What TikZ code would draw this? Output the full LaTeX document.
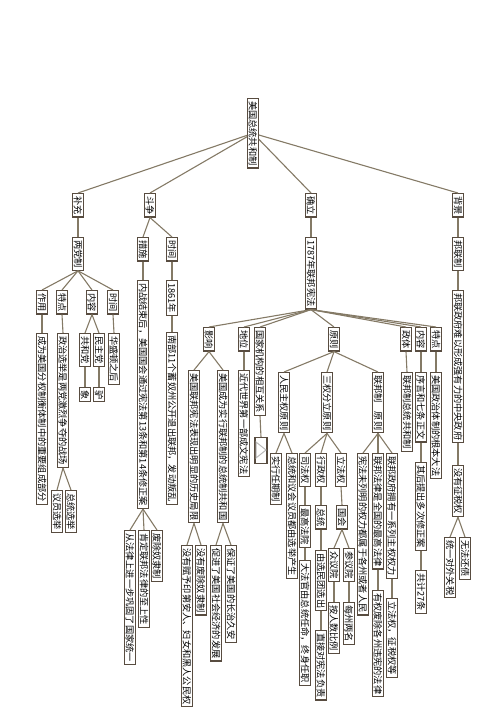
\documentclass[tikz,border=0pt]{standalone}
\usepackage{fontspec}
\newfontfamily\cjk{Noto Sans CJK SC}
\definecolor{boxc}{RGB}{88,76,64}
\definecolor{linkc}{RGB}{132,122,102}
\tikzset{
  box/.style={draw=boxc, line width=1.2pt, fill=white, rotate=-90, anchor=west,
    inner xsep=2.5pt, inner ysep=1pt, font=\cjk\fontsize{9.2}{9.2}\selectfont},
  link/.style={draw=linkc, line width=1.1pt}
}
\begin{document}
\begin{tikzpicture}[x=1pt, y=-1pt]
  \useasboundingbox (0, 0) rectangle (500, 707);
  \node[box] (root) at (253, 98) {美国总统共和制};

  \node[box] (bc) at (78, 193) {补充};
  \node[box] (dz) at (150, 193) {斗争};
  \node[box] (ql) at (311, 193) {确立};
  \node[box] (bj) at (458, 193) {背景};

  % 补充
  \node[box] (ldz) at (78, 237) {两党制};
  \node[box] (zy) at (42, 290) {作用};
  \node[box] (td) at (62, 290) {特点};
  \node[box] (nr) at (92, 290) {内容};
  \node[box] (sj) at (113, 290) {时间};
  \node[box] (zy1) at (42, 333) {成为美国分权制衡体制中的重要组成部分};
  \node[box] (td1) at (63, 333) {政治选举是两党激烈争夺的战场};
  \node[box] (ghd) at (85, 333) {共和党};
  \node[box] (mzd) at (99, 333) {民主党};
  \node[box] (xiang) at (85, 387) {象};
  \node[box] (lv) at (99, 387) {驴};
  \node[box] (sj0) at (114, 333) {华盛顿之后};
  \node[box] (yyxj) at (57, 490) {议员选举};
  \node[box] (zzxj) at (71, 490) {总统选举};

  % 斗争
  \node[box] (cs) at (143, 237) {措施};
  \node[box] (sj1) at (172, 237) {时间};
  \node[box] (cs1) at (143, 280) {内战结束后，美国国会通过宪法第13条和第14条修正案};
  \node[box] (c1) at (130, 530) {从法律上进一步巩固了国家统一};
  \node[box] (c2) at (144, 530) {肯定联邦法律的至上性};
  \node[box] (c3) at (157, 530) {废除奴隶制};
  \node[box] (y1861) at (172, 280) {1861年};
  \node[box] (nb) at (172, 332) {南部11个蓄奴州公开退出联邦，发动叛乱};

  % 确立
  \node[box] (xf) at (311, 237) {1787年联邦宪法};
  \node[box] (yx) at (209, 327) {影响};
  \node[box] (dw) at (244, 327) {地位};
  \node[box] (gj) at (260, 327) {国家机构的相互关系};
  \node[box] (yz) at (334, 327) {原则};
  \node[box] (zt) at (406, 327) {政体};
  \node[box] (nr2) at (421, 327) {内容};
  \node[box] (td2) at (436, 327) {特点};

  \node[box] (jx) at (194, 370) {美国联邦宪法表现出明显的历史局限};
  \node[box] (gh) at (223, 370) {美国成为实行联邦制的总统制共和国};
  \node[box] (mf1) at (187, 545) {没有赋予印第安人、妇女和黑人公民权};
  \node[box] (mf2) at (201, 545) {没有废除奴隶制};
  \node[box] (cj) at (216, 545) {促进了美国社会经济的发展};
  \node[box] (bz) at (231, 545) {保证了美国的长治久安};
  \node[box] (dw1) at (244, 370) {近代世界第一部成文宪法};
  \node[box, minimum width=26pt, minimum height=12pt] (tri) at (261, 437) {};
  \draw[gray!55, line width=1pt] (256, 442) -- (266, 450) -- (256, 458) -- cycle;

  \node[box] (rm) at (284, 372) {人民主权原则};
  \node[box] (sq) at (327, 372) {三权分立原则};
  \node[box] (lb) at (378, 372) {联邦制　原则};
  \node[box] (rq) at (276, 453) {实行任期制};
  \node[box] (xj) at (292, 453) {总统和议会议员都由选举产生};
  \node[box] (sf) at (305, 453) {司法权};
  \node[box] (xz) at (321, 453) {行政权};
  \node[box] (lf) at (341, 453) {立法权};
  \node[box] (zgfy) at (305, 505) {最高法院};
  \node[box] (zt3) at (321, 505) {总统};
  \node[box] (gh3) at (342, 505) {国会};
  \node[box] (dfg) at (305, 560) {大法官由总统任命，终身任职};
  \node[box] (xmt) at (321, 550) {由选民团选出};
  \node[box] (zjfz) at (321, 630) {直接对宪法负责};
  \node[box] (zyy) at (334, 548) {众议院};
  \node[box] (cyy) at (349, 548) {参议院};
  \node[box] (arb) at (334, 602) {按人数比例};
  \node[box] (mzl) at (349, 602) {每州两名};
  \node[box] (lb1) at (363, 453) {宪法未列明的权力都属于各州或者人民};
  \node[box] (lb2) at (378, 453) {联邦法律是全国的最高法律};
  \node[box] (lb3) at (392, 453) {联邦政府拥有一系列主权权力};
  \node[box] (lb2a) at (378, 590) {有权废除各州违宪的法律};
  \node[box] (lb3a) at (392, 598) {立法权，征税权等};

  \node[box] (zt1) at (407, 372) {联邦制总统共和制};
  \node[box] (xy) at (421, 372) {序言和七条正文};
  \node[box] (qh) at (421, 462) {其后提出多次修正案};
  \node[box] (gj27) at (421, 570) {共计27条};
  \node[box] (td2a) at (436, 372) {美国政治体制的根本大法};

  % 背景
  \node[box] (blz) at (458, 237) {邦联制};
  \node[box] (blzf) at (458, 290) {邦联政府难以形成强有力的中央政府};
  \node[box] (mzs) at (458, 465) {没有征税权};
  \node[box] (tyg) at (450, 537) {统一对外关税};
  \node[box] (wfh) at (465, 537) {无法还债};

  % links
  \foreach \b in {bc, dz, ql, bj}
    \draw[link] (root) -- (\b.west);
  \foreach \a/\b in {bc/ldz, ldz/zy, ldz/td, ldz/nr, ldz/sj, zy/zy1, td/td1,
      td1/yyxj, td1/zzxj, nr/ghd, nr/mzd, ghd/xiang, mzd/lv, sj/sj0,
      dz/cs, dz/sj1, cs/cs1, cs1/c1, cs1/c2, cs1/c3, sj1/y1861, y1861/nb,
      ql/xf, xf/yx, xf/dw, xf/gj, xf/yz, xf/zt, xf/nr2, xf/td2,
      yx/jx, yx/gh, jx/mf1, jx/mf2, gh/cj, gh/bz, dw/dw1, gj/tri,
      yz/rm, yz/sq, yz/lb, rm/rq, rm/xj, sq/sf, sq/xz, sq/lf,
      sf/zgfy, zgfy/dfg, xz/zt3, zt3/xmt, xmt/zjfz, lf/gh3, gh3/zyy, gh3/cyy,
      zyy/arb, cyy/mzl, lb/lb1, lb/lb2, lb/lb3, lb2/lb2a, lb3/lb3a,
      zt/zt1, nr2/xy, xy/qh, qh/gj27, td2/td2a,
      bj/blz, blz/blzf, blzf/mzs, mzs/tyg, mzs/wfh}
    \draw[link] (\a.east) -- (\b.west);
\end{tikzpicture}
\end{document}
